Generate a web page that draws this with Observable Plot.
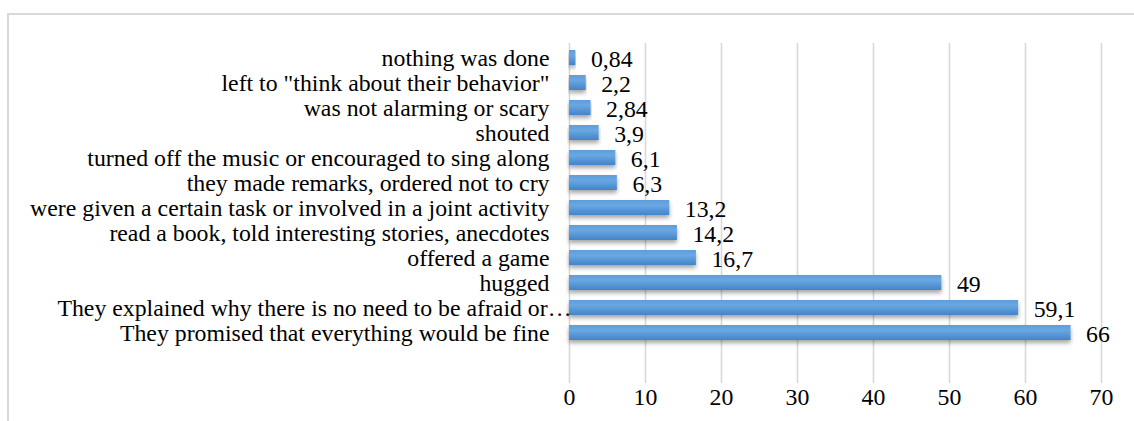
<!DOCTYPE html>
<html>
<head>
<meta charset="utf-8">
<script src="https://cdn.jsdelivr.net/npm/d3@7"></script>
<script src="https://cdn.jsdelivr.net/npm/@observablehq/plot@0.6"></script>
<style>
  html, body { margin: 0; padding: 0; background: #fff; overflow: hidden; }
  #wrap { position: relative; width: 1134px; height: 421px; overflow: hidden; }
  #frame { position: absolute; left: 7px; top: 13px; width: 1200px; height: 500px; border: 2px solid #d9d9d9; box-sizing: border-box; }
  #chart { position: absolute; left: 0; top: 0; }
</style>
</head>
<body>
<div id="wrap"><div id="frame"></div><div id="chart"></div></div>
<script>
const categories = [
  "nothing was done",
  "left to \"think about their behavior\"",
  "was not alarming or scary",
  "shouted",
  "turned off the music or encouraged to sing along",
  "they made remarks, ordered not to cry",
  "were given a certain task or involved in a joint activity",
  "read a book, told interesting stories, anecdotes",
  "offered a game",
  "hugged",
  "They explained why there is no need to be afraid or\u2026",
  "They promised that everything would be fine"
];
const values = [0.84, 2.2, 2.84, 3.9, 6.1, 6.3, 13.2, 14.2, 16.7, 49, 59.1, 66];
const valueLabels = ["0,84", "2,2", "2,84", "3,9", "6,1", "6,3", "13,2", "14,2", "16,7", "49", "59,1", "66"];
const xTicks = [0, 10, 20, 30, 40, 50, 60, 70];

const data = categories.map((c, i) => ({category: c, value: values[i], label: valueLabels[i], truncated: c.endsWith("\u2026")}));

const defs = () => {
  const d = d3.create("svg:defs");
  const g = d.append("linearGradient").attr("id", "barGrad").attr("x1", 0).attr("y1", 0).attr("x2", 0).attr("y2", 1);
  g.append("stop").attr("offset", "0%").attr("stop-color", "#5f9ddb");
  g.append("stop").attr("offset", "35%").attr("stop-color", "#6aa8e3");
  g.append("stop").attr("offset", "100%").attr("stop-color", "#4483c8");
  const f = d.append("filter").attr("id", "barShadow").attr("x", "-5%").attr("y", "-30%").attr("width", "110%").attr("height", "190%");
  f.append("feDropShadow").attr("dx", 0).attr("dy", 3).attr("stdDeviation", 2).attr("flood-color", "#000").attr("flood-opacity", 0.35);
  return d.node();
};

const font = "'Liberation Serif', 'Times New Roman', serif";
const fs = 23.8;

const chart = Plot.plot({
  width: 1134,
  height: 421,
  marginTop: 43,
  marginBottom: 38,
  marginLeft: 569,
  marginRight: 33,
  style: {fontFamily: font, fontSize: fs + "px", color: "#000", background: "transparent", overflow: "visible"},
  x: {domain: [0, 70], ticks: xTicks, label: null},
  y: {domain: categories, range: [38.1, 351.1], padding: 0.42, axis: null},
  marks: [
    defs,
    Plot.ruleX(xTicks, {stroke: "#d9d9d9", strokeWidth: 1.6}),
    Plot.barX(data, {x: "value", y: "category", fill: "url(#barGrad)", className: "bars"}),
    Plot.text(data.filter(d => !d.truncated), {x: 0, y: "category", text: "category", textAnchor: "end", dx: -20, fill: "#000", fontSize: fs}),
    Plot.text(data.filter(d => d.truncated), {x: 0, y: "category", text: "category", textAnchor: "end", dx: 2, fill: "#000", fontSize: fs}),
    Plot.text(data, {x: "value", y: "category", text: "label", textAnchor: "start", dx: 15, dy: 1, fill: "#000", fontSize: fs}),
    Plot.axisX({ticks: xTicks, tickSize: 0, tickPadding: 5, tickFormat: d => String(d), fontSize: fs, label: null})
  ]
});
d3.select(chart).selectAll("g.bars rect").attr("filter", "url(#barShadow)");
document.getElementById("chart").appendChild(chart);
</script>
</body>
</html>
